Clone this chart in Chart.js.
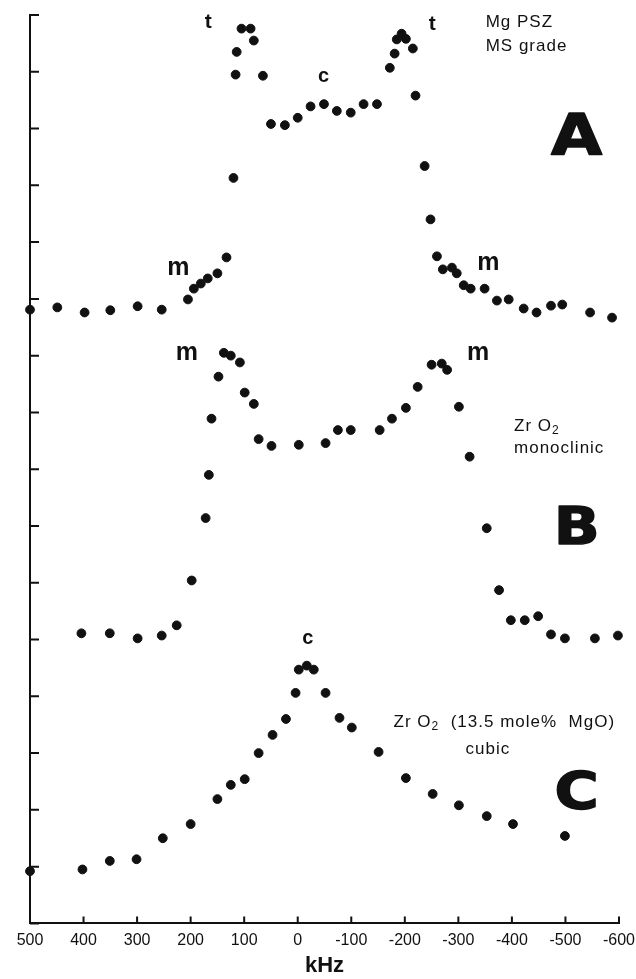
<!DOCTYPE html>
<html lang="en">
<head>
<meta charset="UTF-8">
<title>NMR spectra kHz</title>
<script src="https://cdn.jsdelivr.net/npm/chart.js"></script>
<style>
  * { margin: 0; padding: 0; box-sizing: border-box; }
  body { background: #fff; width: 636px; height: 979px; overflow: hidden; }
  #chart-container { position: relative; width: 636px; height: 979px; }
</style>
</head>
<body>
<div id="chart-container"><canvas id="myChart"></canvas></div>
<script>
// x values in kHz, y values in tick units of the (unlabelled) left axis
const kHzA = [500, 449, 398, 350, 299, 254, 205, 194, 181, 168, 150, 133, 120, 116, 114, 105, 88, 82,
  65, 50, 24, 0, -24, -49, -73, -99, -123, -148, -172, -181, -185, -194, -202, -215, -220, -237,
  -248, -260, -271, -288, -297, -310, -323, -349, -372, -394, -422, -446, -473, -494, -546, -587];
const valA = [10.81, 10.85, 10.76, 10.80, 10.87, 10.81, 10.99, 11.18, 11.27, 11.36, 11.45, 11.73,
  13.13, 14.95, 15.35, 15.76, 15.76, 15.55, 14.93, 14.08, 14.06, 14.19, 14.39, 14.43, 14.31, 14.28,
  14.43, 14.43, 15.07, 15.32, 15.57, 15.67, 15.58, 15.41, 14.58, 13.34, 12.40, 11.75, 11.52, 11.55,
  11.45, 11.24, 11.18, 11.18, 10.97, 10.99, 10.83, 10.76, 10.88, 10.90, 10.76, 10.67];

const kHzB = [404, 351, 299, 254, 226, 198, 172, 166, 161, 148, 138, 125, 108, 99, 82, 73, 49, -2,
  -52, -75, -99, -153, -176, -202, -224, -250, -269, -279, -301, -321, -353, -376, -398, -424, -449,
  -473, -499, -555, -598];
const valB = [5.11, 5.11, 5.02, 5.07, 5.25, 6.04, 7.14, 7.90, 8.89, 9.63, 10.05, 10.00, 9.88, 9.35,
  9.15, 8.53, 8.41, 8.43, 8.46, 8.69, 8.69, 8.69, 8.89, 9.08, 9.45, 9.84, 9.86, 9.75, 9.10, 8.22,
  6.96, 5.87, 5.34, 5.34, 5.41, 5.09, 5.02, 5.02, 5.07];

const kHzC = [500, 402, 351, 301, 252, 200, 150, 125, 99, 73, 47, 22, 4, -2, -17, -30, -52, -78,
  -101, -151, -202, -252, -301, -353, -402, -499];
const valC = [0.92, 0.95, 1.10, 1.13, 1.50, 1.75, 2.19, 2.44, 2.54, 3.00, 3.32, 3.60, 4.06, 4.47,
  4.54, 4.47, 4.06, 3.62, 3.45, 3.02, 2.56, 2.28, 2.08, 1.89, 1.75, 1.54];

const xTicks = [500, 400, 300, 200, 100, 0, -100, -200, -300, -400, -500, -600];
const yTicks = [0, 1, 2, 3, 4, 5, 6, 7, 8, 9, 10, 11, 12, 13, 14, 15, 16];

// text placed on the plot (data coordinates); parts with sub:true are drawn as subscripts
const small = '17px "Liberation Sans"';
const notes = [
  { parts: [{ t: 't' }], x: 166, y: 15.88, font: 'bold 21px "Liberation Sans"', align: 'center' },
  { parts: [{ t: 't' }], x: -252, y: 15.83, font: 'bold 21px "Liberation Sans"', align: 'center' },
  { parts: [{ t: 'c' }], x: -49, y: 14.91, font: 'bold 20px "Liberation Sans"', align: 'center' },
  { parts: [{ t: 'Mg PSZ' }], x: -351, y: 15.88, font: small, align: 'left' },
  { parts: [{ t: 'MS grade' }], x: -351, y: 15.44, font: small, align: 'left' },
  { parts: [{ t: 'm' }], x: 222, y: 11.55, font: 'bold 25px "Liberation Sans"', align: 'center' },
  { parts: [{ t: 'm' }], x: -357, y: 11.63, font: 'bold 25px "Liberation Sans"', align: 'center' },
  { parts: [{ t: 'm' }], x: 206, y: 10.04, font: 'bold 25px "Liberation Sans"', align: 'center' },
  { parts: [{ t: 'm' }], x: -338, y: 10.04, font: 'bold 25px "Liberation Sans"', align: 'center' },
  { parts: [{ t: 'Zr O' }, { t: '2', sub: true }], x: -404, y: 8.76, font: small, align: 'left' },
  { parts: [{ t: 'monoclinic' }], x: -404, y: 8.36, font: small, align: 'left' },
  { parts: [{ t: 'c' }], x: -20, y: 5.02, font: 'bold 20px "Liberation Sans"', align: 'center' },
  { parts: [{ t: 'Zr O' }, { t: '2', sub: true }, { t: '  (13.5 mole%  MgO)' }], x: -179, y: 3.55, font: small, align: 'left' },
  { parts: [{ t: 'cubic' }], x: -355, y: 3.06, font: small, align: 'center' }
];
// big panel letters, y is the baseline
const panels = [
  { t: 'A', x: -521, y: 13.53, size: 57 },
  { t: 'B', x: -521, y: 6.68, size: 52 },
  { t: 'C', x: -521, y: 2.01, size: 52 }
];

function toPoints(xs, ys) {
  return xs.map(function (x, i) { return { x: x, y: ys[i] }; });
}

// draws inward tick marks and the text notes
const decorPlugin = {
  id: 'decor',
  afterDraw: function (chart) {
    const ctx = chart.ctx;
    const xs = chart.scales.x;
    const ys = chart.scales.y;
    const area = chart.chartArea;
    ctx.save();
    ctx.strokeStyle = '#111';
    ctx.lineWidth = 2;
    ctx.beginPath();
    yTicks.forEach(function (v) {
      const py = ys.getPixelForValue(v);
      ctx.moveTo(area.left, py);
      ctx.lineTo(area.left + 9, py);
    });
    xTicks.forEach(function (v) {
      const px = xs.getPixelForValue(v);
      ctx.moveTo(px, area.bottom);
      ctx.lineTo(px, area.bottom - 7);
    });
    ctx.stroke();

    ctx.fillStyle = '#111';
    ctx.textBaseline = 'middle';
    if ('letterSpacing' in ctx) ctx.letterSpacing = '1px';
    notes.forEach(function (n) {
      ctx.font = n.font;
      let total = 0;
      n.parts.forEach(function (p) {
        ctx.font = p.sub ? '12px "Liberation Sans"' : n.font;
        total += ctx.measureText(p.t).width;
      });
      let px = xs.getPixelForValue(n.x);
      const py = ys.getPixelForValue(n.y);
      if (n.align === 'center') px -= total / 2;
      ctx.textAlign = 'left';
      n.parts.forEach(function (p) {
        ctx.font = p.sub ? '12px "Liberation Sans"' : n.font;
        ctx.fillText(p.t, px, p.sub ? py + 5 : py);
        px += ctx.measureText(p.t).width;
      });
    });
    if ('letterSpacing' in ctx) ctx.letterSpacing = '0px';

    ctx.textAlign = 'center';
    ctx.textBaseline = 'alphabetic';
    ctx.lineWidth = 1.5;
    ctx.lineJoin = 'round';
    panels.forEach(function (p) {
      ctx.save();
      ctx.translate(xs.getPixelForValue(p.x), ys.getPixelForValue(p.y));
      ctx.scale(1.16, 1);
      ctx.font = 'bold ' + p.size + 'px "DejaVu Sans"';
      ctx.fillText(p.t, 0, 0);
      ctx.strokeText(p.t, 0, 0);
      ctx.restore();
    });
    ctx.restore();
  }
};

const dotStyle = {
  backgroundColor: '#111',
  borderColor: '#111',
  pointRadius: 4.4,
  pointHoverRadius: 4.4,
  clip: false
};

const ctx = document.getElementById('myChart').getContext('2d');
const myChart = new Chart(ctx, {
  type: 'scatter',
  data: {
    datasets: [
      Object.assign({ label: 'A', data: toPoints(kHzA, valA) }, dotStyle),
      Object.assign({ label: 'B', data: toPoints(kHzB, valB) }, dotStyle),
      Object.assign({ label: 'C', data: toPoints(kHzC, valC) }, dotStyle)
    ]
  },
  options: {
    responsive: true,
    maintainAspectRatio: false,
    animation: false,
    layout: { padding: { left: 30, right: 17, top: 15, bottom: 0 } },
    plugins: {
      legend: { display: false },
      tooltip: { enabled: false }
    },
    scales: {
      x: {
        type: 'linear',
        min: -600,
        max: 500,
        reverse: true,
        afterBuildTicks: function (scale) {
          scale.ticks = xTicks.map(function (v) { return { value: v }; });
        },
        afterFit: function (scale) {
          // the layout padding already leaves room for the end labels
          scale.paddingLeft = 0;
          scale.paddingRight = 0;
        },
        grid: { display: false, drawTicks: false },
        border: { display: true, color: '#111', width: 2 },
        ticks: {
          color: '#111',
          padding: 8,
          maxRotation: 0,
          autoSkip: false,
          font: { family: 'Liberation Sans', size: 16 }
        },
        title: {
          display: true,
          text: 'kHz',
          color: '#111',
          font: { family: 'Liberation Sans', size: 22, weight: 'bold' },
          padding: { top: -6, bottom: 0 }
        }
      },
      y: {
        type: 'linear',
        min: 0,
        max: 16,
        grid: { display: false, drawTicks: false },
        border: { display: true, color: '#111', width: 2 },
        ticks: { display: false, stepSize: 1 }
      }
    }
  },
  plugins: [decorPlugin]
});
</script>
</body>
</html>
